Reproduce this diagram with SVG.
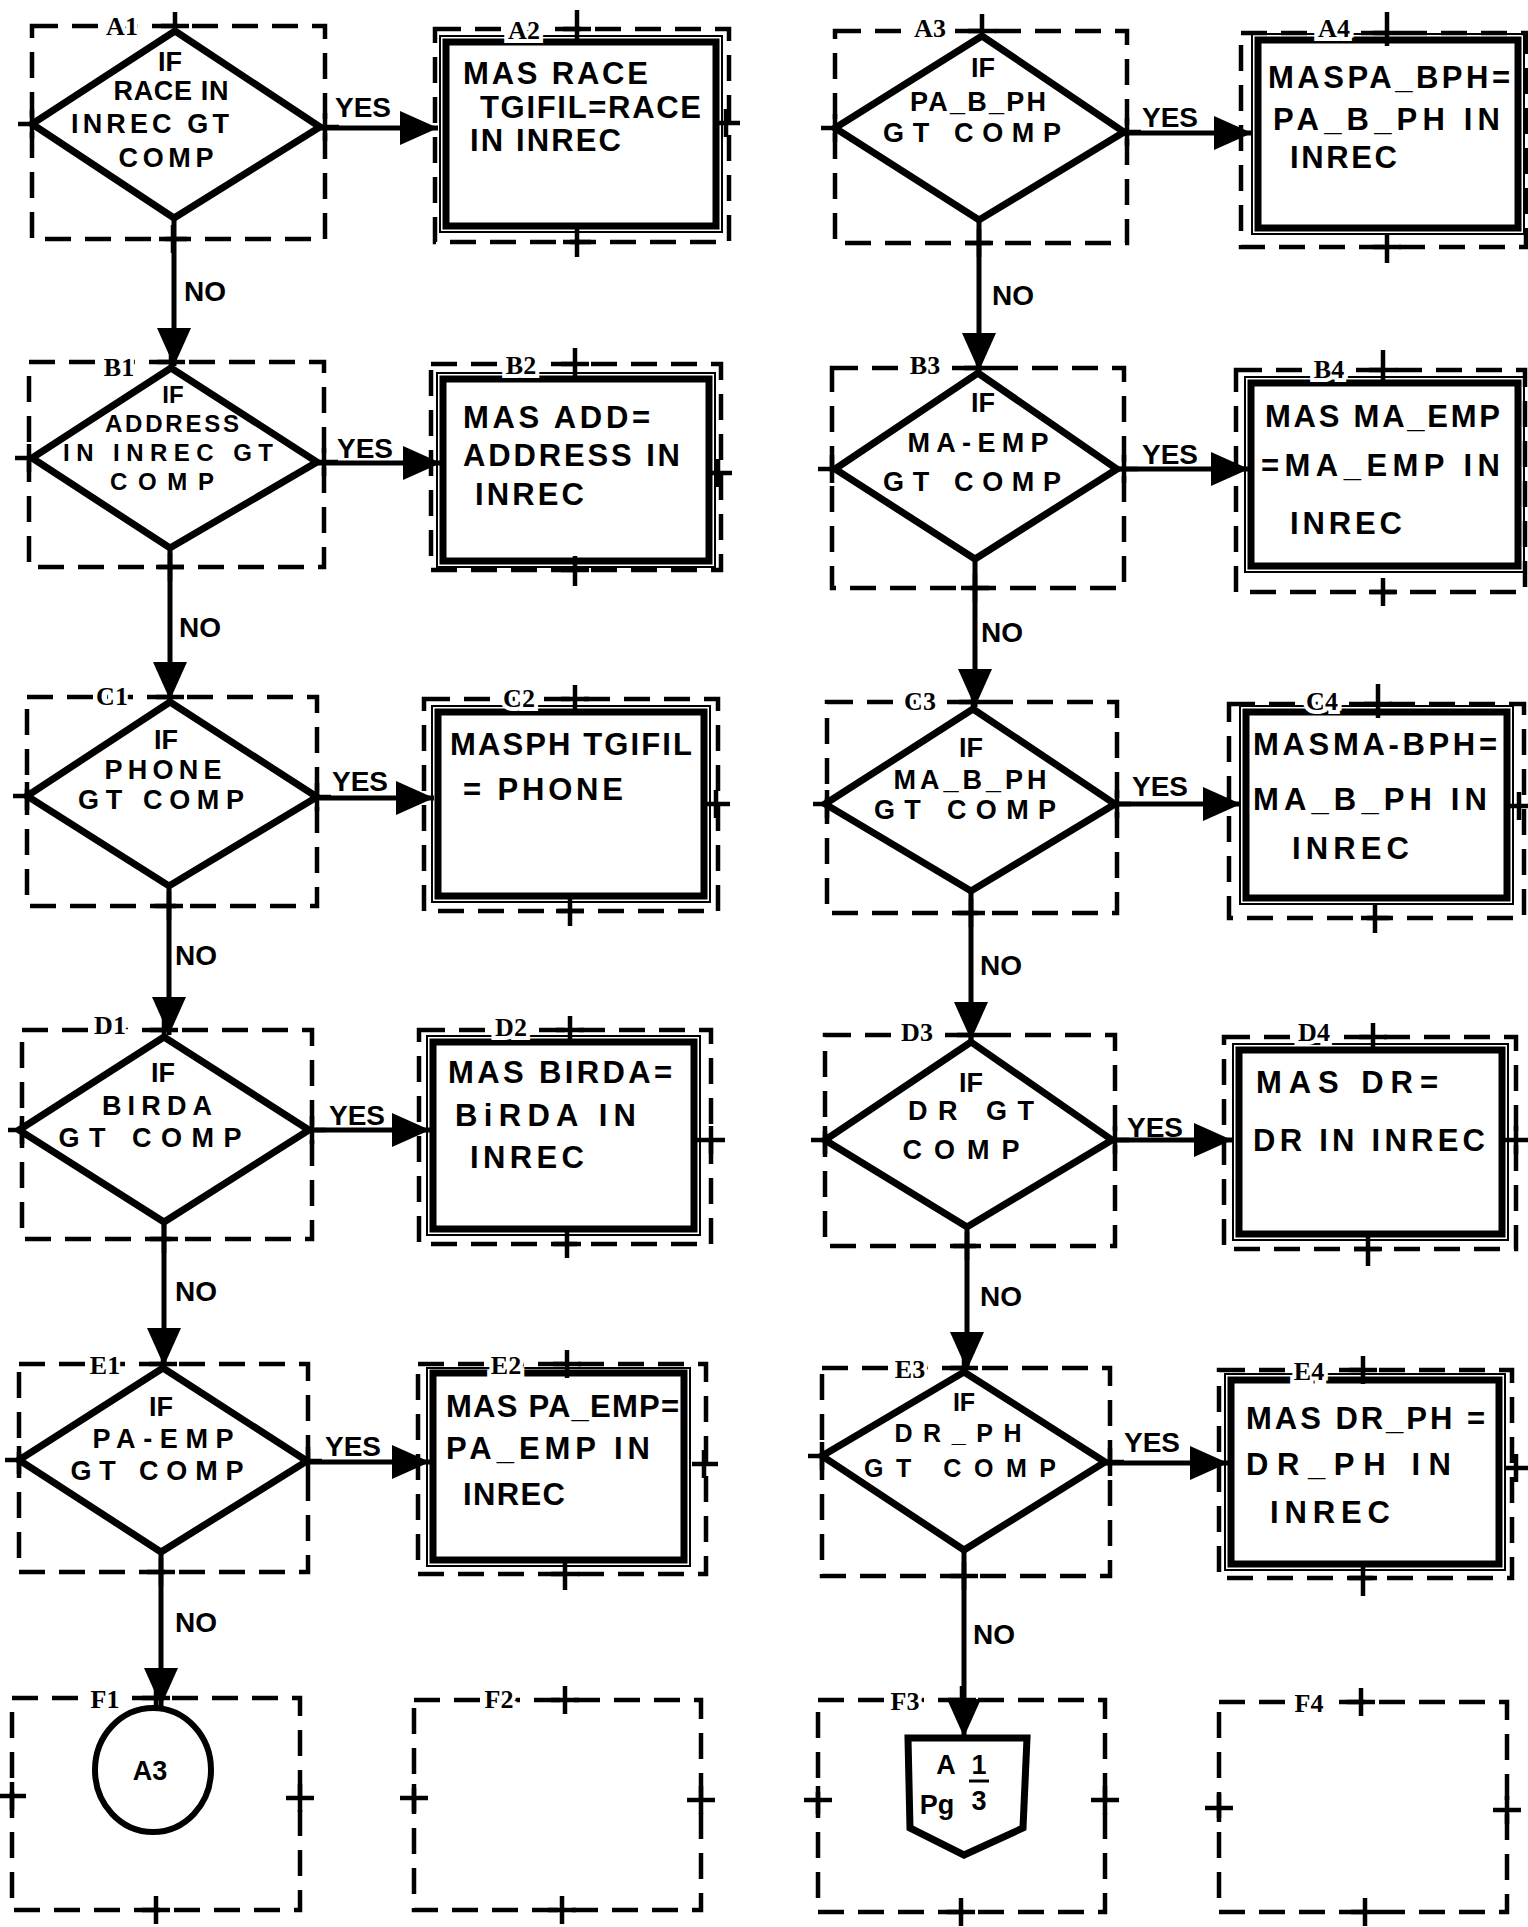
<svg xmlns="http://www.w3.org/2000/svg" width="1528" height="1927" viewBox="0 0 1528 1927">
<style>
.dash{fill:none;stroke:#000;stroke-width:4.5;stroke-dasharray:26 14}
.dia{fill:#fff;stroke:#000;stroke-width:7;stroke-linejoin:miter}
.proc{fill:none;stroke:#000;stroke-width:7}
.thin{fill:none;stroke:#000;stroke-width:2}
.tick{fill:none;stroke:#000;stroke-width:4.5}
.conn{fill:none;stroke:#000;stroke-width:5;marker-end:url(#ah)}
.lbl{font-family:"Liberation Serif",serif;font-weight:bold;font-size:26px;text-anchor:middle;paint-order:stroke;stroke:#fff;stroke-width:8;fill:#000}
.t{font-family:"Liberation Sans",Arial,sans-serif;font-size:31px;font-weight:bold;fill:#000}
.d{font-family:"Liberation Sans",Arial,sans-serif;font-size:27px;font-weight:bold;fill:#000;text-anchor:middle}
.ds{font-size:24px}
.dm{font-size:25px}
.yn{font-family:"Liberation Sans",Arial,sans-serif;font-size:28px;font-weight:bold;fill:#000;text-anchor:middle}
.conn-node{fill:#fff;stroke:#000;stroke-width:6}
</style>
<defs>
<marker id="ah" markerUnits="userSpaceOnUse" markerWidth="40" markerHeight="34" refX="38" refY="17" orient="auto">
<path d="M0,0 L38,17 L0,34 Z" fill="#000"/>
</marker>
</defs>
<rect width="1528" height="1927" fill="#fff"/>

<!-- ===== Column 1 : decisions ===== -->
<g id="A1">
<rect class="dash" x="32" y="26" width="293" height="213"/>
<path class="tick" d="M161 26H189M175 12V40M159 239H187M173 225V253M32 110V138M18 124H46M325 113V141M311 127H339"/>
<polygon class="dia" points="175,31 320,127 174,218 32,124"/>
<text class="lbl" x="122" y="35">A1</text>
<text class="d" x="170" y="71">IF</text>
<text class="d" x="171" y="100" textLength="115">RACE IN</text>
<text class="d" x="150" y="133" textLength="158">INREC GT</text>
<text class="d" x="166" y="167" textLength="95">COMP</text>
</g>
<g id="B1">
<rect class="dash" x="29" y="362" width="295" height="205"/>
<path class="tick" d="M157 362H185M171 348V376M156 567H184M170 553V581M29 444V472M15 458H43M324 448V476M310 462H338"/>
<polygon class="dia" points="171,368 317,462 170,548 32,458"/>
<text class="lbl" x="119" y="376">B1</text>
<text class="d ds" x="173" y="403">IF</text>
<text class="d ds" x="172" y="432" textLength="134">ADDRESS</text>
<text class="d ds" x="168" y="461" textLength="210">IN INREC GT</text>
<text class="d ds" x="162" y="490" textLength="104">COMP</text>
</g>
<g id="C1">
<rect class="dash" x="27" y="697" width="290" height="209"/>
<path class="tick" d="M156 697H184M170 683V711M155 906H183M169 892V920M27 782V810M13 796H41M317 783V811M303 797H331"/>
<polygon class="dia" points="170,702 317,797 169,886 27,796"/>
<text class="lbl" x="112" y="705">C1</text>
<text class="d" x="166" y="749">IF</text>
<text class="d" x="163" y="779" textLength="117">PHONE</text>
<text class="d" x="161" y="809" textLength="166">GT COMP</text>
</g>
<g id="D1">
<rect class="dash" x="22" y="1030" width="290" height="209"/>
<path class="tick" d="M150 1030H178M164 1016V1044M150 1239H178M164 1225V1253M22 1116V1144M8 1130H36M312 1116V1144M298 1130H326"/>
<polygon class="dia" points="164,1037 309,1130 164,1222 19,1130"/>
<text class="lbl" x="110" y="1034">D1</text>
<text class="d" x="163" y="1082">IF</text>
<text class="d" x="157" y="1115" textLength="110">BIRDA</text>
<text class="d" x="150" y="1147" textLength="183">GT COMP</text>
</g>
<g id="E1">
<rect class="dash" x="19" y="1364" width="289" height="208"/>
<path class="tick" d="M149 1364H177M163 1350V1378M147 1572H175M161 1558V1586M19 1446V1474M5 1460H33M308 1447V1475M294 1461H322"/>
<polygon class="dia" points="163,1368 307,1461 161,1552 19,1460"/>
<text class="lbl" x="105" y="1374">E1</text>
<text class="d" x="161" y="1416">IF</text>
<text class="d" x="163" y="1448" textLength="141">PA-EMP</text>
<text class="d" x="157" y="1480" textLength="173">GT COMP</text>
</g>
<g id="F1">
<rect class="dash" x="12" y="1698" width="288" height="212"/>
<path class="tick" d="M142 1698H170M156 1684V1712M142 1910H170M156 1896V1924M12 1782V1810M-2 1796H26M300 1784V1812M286 1798H314"/>
<ellipse class="conn-node" cx="153" cy="1770" rx="58" ry="62"/>
<text class="lbl" x="105" y="1708">F1</text>
<text class="d" x="150" y="1780">A3</text>
</g>

<!-- ===== Column 2 : processes ===== -->
<g id="A2">
<rect class="dash" x="435" y="29" width="294" height="213"/>
<rect class="thin" x="440" y="36" width="282" height="196"/>
<rect class="proc" x="446" y="42" width="270" height="184"/>
<path class="tick" d="M563 29H591M577 10V44M563 242H591M577 226V257M715 123H740M726 109V137"/>
<text class="lbl" x="524" y="39">A2</text>
<text class="t" x="463" y="84" textLength="185">MAS RACE</text>
<text class="t" x="480" y="118" textLength="221">TGIFIL=RACE</text>
<text class="t" x="470" y="151" textLength="151">IN INREC</text>
</g>
<g id="B2">
<rect class="dash" x="431" y="364" width="290" height="206"/>
<rect class="thin" x="437" y="373" width="278" height="194"/>
<rect class="proc" x="443" y="379" width="266" height="182"/>
<path class="tick" d="M561 364H589M575 348V380M561 570H589M575 556V586M707 473H732M718 459V487"/>
<text class="lbl" x="521" y="374">B2</text>
<text class="t" x="463" y="428" textLength="187">MAS ADD=</text>
<text class="t" x="463" y="466" textLength="217">ADDRESS IN</text>
<text class="t" x="475" y="505" textLength="109">INREC</text>
</g>
<g id="C2">
<rect class="dash" x="424" y="699" width="294" height="212"/>
<rect class="thin" x="432" y="706" width="278" height="196"/>
<rect class="proc" x="438" y="712" width="266" height="184"/>
<path class="tick" d="M561 699H589M575 685V713M556 911H584M570 897V926M704 804H730M716 790V818"/>
<text class="lbl" x="519" y="707">C2</text>
<text class="t" x="450" y="755" textLength="242">MASPH TGIFIL</text>
<text class="t" x="463" y="800" textLength="160">= PHONE</text>
</g>
<g id="D2">
<rect class="dash" x="419" y="1030" width="292" height="214"/>
<rect class="thin" x="427" y="1036" width="273" height="199"/>
<rect class="proc" x="433" y="1042" width="261" height="187"/>
<path class="tick" d="M556 1030H584M570 1016V1044M553 1244H581M567 1230V1258M697 1140H725M711 1126V1154"/>
<text class="lbl" x="511" y="1036">D2</text>
<text class="t" x="448" y="1083" textLength="224">MAS BIRDA=</text>
<text class="t" x="455" y="1126" textLength="181">BiRDA IN</text>
<text class="t" x="470" y="1168" textLength="114">INREC</text>
</g>
<g id="E2">
<rect class="dash" x="418" y="1364" width="288" height="210"/>
<rect class="thin" x="427" y="1368" width="263" height="198"/>
<rect class="proc" x="433" y="1373" width="251" height="187"/>
<path class="tick" d="M553 1364H581M567 1350V1378M551 1574H579M565 1562V1590M692 1464H718M704 1450V1478"/>
<text class="lbl" x="506" y="1374">E2</text>
<text class="t" x="446" y="1417" textLength="233">MAS PA_EMP=</text>
<text class="t" x="446" y="1459" textLength="204">PA_EMP IN</text>
<text class="t" x="463" y="1505" textLength="102">INREC</text>
</g>
<g id="F2">
<rect class="dash" x="414" y="1700" width="287" height="210"/>
<path class="tick" d="M551 1700H579M565 1686V1714M548 1910H576M562 1896V1924M414 1784V1812M400 1798H428M701 1786V1814M687 1800H715"/>
<text class="lbl" x="499" y="1708">F2</text>
</g>

<!-- ===== Column 3 : decisions ===== -->
<g id="A3">
<rect class="dash" x="835" y="31" width="292" height="212"/>
<path class="tick" d="M968 31H996M982 14V45M965 243H993M979 229V257M835 114V142M821 128H849M1127 118V146M1113 132H1141"/>
<polygon class="dia" points="982,36 1124,132 979,220 835,128"/>
<text class="lbl" x="930" y="37">A3</text>
<text class="d" x="983" y="77">IF</text>
<text class="d" x="978" y="111" textLength="136">PA_B_PH</text>
<text class="d" x="972" y="142" textLength="178">GT COMP</text>
</g>
<g id="B3">
<rect class="dash" x="832" y="368" width="292" height="220"/>
<path class="tick" d="M964 368H992M978 354V382M961 588H989M975 574V602M832 455V483M818 469H846M1124 455V483M1110 469H1138"/>
<polygon class="dia" points="978,373 1117,469 975,559 835,469"/>
<text class="lbl" x="925" y="374">B3</text>
<text class="d" x="983" y="412">IF</text>
<text class="d" x="978" y="452" textLength="141">MA-EMP</text>
<text class="d" x="972" y="491" textLength="178">GT COMP</text>
</g>
<g id="C3">
<rect class="dash" x="827" y="702" width="290" height="211"/>
<path class="tick" d="M959 702H987M973 688V716M957 913H985M971 899V927M827 790V818M813 804H841M1117 790V818M1103 804H1131"/>
<polygon class="dia" points="973,709 1115,804 971,891 825,804"/>
<text class="lbl" x="920" y="710">C3</text>
<text class="d" x="971" y="757">IF</text>
<text class="d" x="970" y="789" textLength="153">MA_B_PH</text>
<text class="d" x="965" y="819" textLength="182">GT COMP</text>
</g>
<g id="D3">
<rect class="dash" x="825" y="1035" width="290" height="211"/>
<path class="tick" d="M957 1035H985M971 1021V1049M953 1246H981M967 1232V1260M825 1126V1154M811 1140H839M1115 1126V1154M1101 1140H1129"/>
<polygon class="dia" points="971,1042 1112,1140 967,1227 825,1140"/>
<text class="lbl" x="917" y="1041">D3</text>
<text class="d" x="971" y="1092">IF</text>
<text class="d" x="971" y="1120" textLength="126">DR  GT</text>
<text class="d" x="961" y="1159" textLength="117">COMP</text>
</g>
<g id="E3">
<rect class="dash" x="822" y="1368" width="288" height="208"/>
<path class="tick" d="M950 1368H978M964 1354V1382M950 1576H978M964 1562V1590M822 1442V1470M808 1456H836M1110 1448V1476M1096 1462H1124"/>
<polygon class="dia" points="964,1372 1105,1462 964,1550 822,1456"/>
<text class="lbl" x="910" y="1378">E3</text>
<text class="d dm" x="964" y="1411">IF</text>
<text class="d dm" x="958" y="1442" textLength="127">DR_PH</text>
<text class="d dm" x="960" y="1477" textLength="192">GT  COMP</text>
</g>
<g id="F3">
<rect class="dash" x="818" y="1700" width="287" height="212"/>
<path class="tick" d="M948 1700H976M962 1686V1714M947 1912H975M961 1898V1926M818 1786V1814M804 1800H832M1105 1786V1814M1091 1800H1119"/>
<polygon class="dia" points="908,1738 1027,1738 1023,1828 964,1855 910,1828"/>
<text class="lbl" x="905" y="1710">F3</text>
<text class="d" x="946" y="1774">A</text>
<text class="d" x="979" y="1774">1</text>
<path d="M969 1781H989" stroke="#000" stroke-width="3"/>
<text class="d" x="937" y="1814">Pg</text>
<text class="d" x="979" y="1810">3</text>
</g>

<!-- ===== Column 4 : processes ===== -->
<g id="A4">
<rect class="dash" x="1241" y="33" width="285" height="214"/>
<rect class="thin" x="1252" y="34" width="272" height="200"/>
<rect class="proc" x="1258" y="40" width="260" height="188"/>
<path class="tick" d="M1373 33H1401M1387 12V46M1373 247H1401M1387 233V263"/>
<text class="lbl" x="1334" y="37">A4</text>
<text class="t" x="1268" y="88" textLength="242">MASPA_BPH=</text>
<text class="t" x="1273" y="130" textLength="227">PA_B_PH IN</text>
<text class="t" x="1290" y="168" textLength="107">INREC</text>
</g>
<g id="B4">
<rect class="dash" x="1236" y="370" width="289" height="222"/>
<rect class="thin" x="1245" y="377" width="279" height="195"/>
<rect class="proc" x="1251" y="383" width="267" height="183"/>
<path class="tick" d="M1369 370H1397M1383 350V384M1369 592H1397M1383 578V606"/>
<text class="lbl" x="1329" y="378">B4</text>
<text class="t" x="1265" y="427" textLength="235">MAS MA_EMP</text>
<text class="t" x="1261" y="476" textLength="239">=MA_EMP IN</text>
<text class="t" x="1290" y="534" textLength="112">INREC</text>
</g>
<g id="C4">
<rect class="dash" x="1229" y="704" width="295" height="214"/>
<rect class="thin" x="1240" y="706" width="273" height="198"/>
<rect class="proc" x="1246" y="712" width="261" height="186"/>
<path class="tick" d="M1364 704H1392M1378 684V718M1361 918H1389M1375 904V933M1509 806H1528M1519 792V820"/>
<text class="lbl" x="1322" y="710">C4</text>
<text class="t" x="1253" y="755" textLength="244">MASMA-BPH=</text>
<text class="t" x="1253" y="810" textLength="234">MA_B_PH IN</text>
<text class="t" x="1292" y="859" textLength="117">INREC</text>
</g>
<g id="D4">
<rect class="dash" x="1224" y="1037" width="292" height="212"/>
<rect class="thin" x="1233" y="1044" width="275" height="196"/>
<rect class="proc" x="1239" y="1050" width="263" height="184"/>
<path class="tick" d="M1359 1037H1387M1373 1023V1051M1354 1249H1382M1368 1235V1266M1504 1140H1528M1516 1126V1154"/>
<text class="lbl" x="1314" y="1041">D4</text>
<text class="t" x="1256" y="1093" textLength="182">MAS DR=</text>
<text class="t" x="1253" y="1151" textLength="232">DR IN INREC</text>
</g>
<g id="E4">
<rect class="dash" x="1219" y="1370" width="293" height="208"/>
<rect class="thin" x="1225" y="1374" width="280" height="196"/>
<rect class="proc" x="1231" y="1380" width="268" height="184"/>
<path class="tick" d="M1349 1370H1377M1363 1356V1384M1349 1578H1377M1363 1564V1596M1504 1468H1528M1516 1454V1482"/>
<text class="lbl" x="1309" y="1380">E4</text>
<text class="t" x="1246" y="1429" textLength="239">MAS DR_PH =</text>
<text class="t" x="1246" y="1475" textLength="205">DR_PH IN</text>
<text class="t" x="1270" y="1523" textLength="120">INREC</text>
</g>
<g id="F4">
<rect class="dash" x="1219" y="1702" width="288" height="210"/>
<path class="tick" d="M1347 1702H1375M1361 1688V1716M1351 1912H1379M1365 1898V1926M1219 1794V1822M1205 1808H1233M1507 1796V1824M1493 1810H1521"/>
<text class="lbl" x="1309" y="1712">F4</text>
</g>

<!-- ===== Connectors ===== -->
<g id="connectors">
<path class="conn" d="M320 128H438"/>
<path class="conn" d="M174 218V366"/>
<path class="conn" d="M317 463H441"/>
<path class="conn" d="M170 548V700"/>
<path class="conn" d="M317 798H434"/>
<path class="conn" d="M169 886V1035"/>
<path class="conn" d="M309 1130H430"/>
<path class="conn" d="M164 1222V1366"/>
<path class="conn" d="M307 1462H430"/>
<path class="conn" d="M161 1552V1706"/>
<path class="conn" d="M1124 133H1252"/>
<path class="conn" d="M979 220V371"/>
<path class="conn" d="M1117 469H1249"/>
<path class="conn" d="M975 559V707"/>
<path class="conn" d="M1115 804H1241"/>
<path class="conn" d="M971 891V1040"/>
<path class="conn" d="M1112 1140H1232"/>
<path class="conn" d="M967 1227V1370"/>
<path class="conn" d="M1105 1463H1228"/>
<path class="conn" d="M964 1550V1737"/>
<text class="yn" x="363" y="117">YES</text>
<text class="yn" x="365" y="458">YES</text>
<text class="yn" x="360" y="791">YES</text>
<text class="yn" x="357" y="1125">YES</text>
<text class="yn" x="353" y="1456">YES</text>
<text class="yn" x="1170" y="127">YES</text>
<text class="yn" x="1170" y="464">YES</text>
<text class="yn" x="1160" y="796">YES</text>
<text class="yn" x="1155" y="1137">YES</text>
<text class="yn" x="1152" y="1452">YES</text>
<text class="yn" x="205" y="301">NO</text>
<text class="yn" x="200" y="637">NO</text>
<text class="yn" x="196" y="965">NO</text>
<text class="yn" x="196" y="1301">NO</text>
<text class="yn" x="196" y="1632">NO</text>
<text class="yn" x="1013" y="305">NO</text>
<text class="yn" x="1002" y="642">NO</text>
<text class="yn" x="1001" y="975">NO</text>
<text class="yn" x="1001" y="1306">NO</text>
<text class="yn" x="994" y="1644">NO</text>
</g>
</svg>
